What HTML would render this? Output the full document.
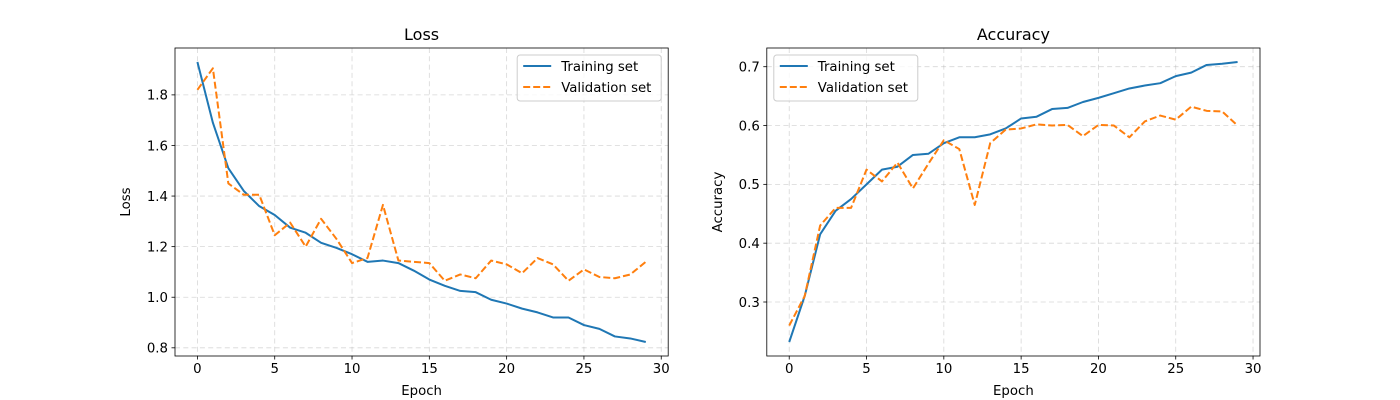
<!DOCTYPE html>
<html><head><meta charset="utf-8"><style>
body{margin:0;background:#fff}
svg{display:block;font-family:"DejaVu Sans","Liberation Sans",sans-serif}
</style></head><body>
<svg id="fig" width="1400" height="400" xmlns="http://www.w3.org/2000/svg"></svg>
<script>
const epochs = Array.from({length:30},(_,i)=>i);
const lossTrain = [1.93,1.69,1.51,1.42,1.36,1.325,1.275,1.255,1.215,1.195,1.17,1.14,1.145,1.135,1.105,1.07,1.045,1.025,1.02,0.99,0.975,0.955,0.94,0.92,0.92,0.89,0.875,0.845,0.837,0.823];
const lossVal = [1.82,1.905,1.45,1.405,1.405,1.245,1.295,1.2,1.31,1.23,1.135,1.155,1.365,1.145,1.14,1.135,1.065,1.09,1.075,1.145,1.13,1.095,1.155,1.13,1.065,1.11,1.08,1.075,1.09,1.14];
const accTrain = [0.232,0.31,0.415,0.455,0.475,0.5,0.525,0.53,0.55,0.552,0.57,0.58,0.58,0.585,0.595,0.612,0.615,0.628,0.63,0.64,0.647,0.655,0.663,0.668,0.672,0.684,0.69,0.703,0.705,0.708];
const accVal = [0.26,0.31,0.43,0.46,0.46,0.525,0.505,0.537,0.493,0.535,0.575,0.56,0.465,0.57,0.593,0.595,0.602,0.6,0.601,0.582,0.601,0.6,0.58,0.607,0.617,0.61,0.632,0.625,0.624,0.6];
const xTicks = [0,5,10,15,20,25,30];
const lossTicks = [0.8,1.0,1.2,1.4,1.6,1.8];
const accTicks = [0.3,0.4,0.5,0.6,0.7];

const NS="http://www.w3.org/2000/svg";
const svg=document.getElementById('fig');
function el(tag,attrs,parent,text){const e=document.createElementNS(NS,tag);for(const k in attrs)e.setAttribute(k,attrs[k]);if(text!==undefined)e.textContent=text;(parent||svg).appendChild(e);return e;}

function panel(x0,title,ylabel,train,val,yTicks,legendRight,prefix){
  const x1=x0+493.2, y0=48, y1=356;
  const all=train.concat(val);
  const mn=Math.min(...all), mx=Math.max(...all), m=(mx-mn)*0.05;
  const ymin=mn-m, ymax=mx+m;
  const xmin=-1.45, xmax=30.45;
  const X=v=>x0+(v-xmin)/(xmax-xmin)*(x1-x0);
  const Y=v=>y1-(v-ymin)/(ymax-ymin)*(y1-y0);
  const g=el('g',{});
  
  
  // grid
  xTicks.forEach(t=>{
    const l=el('line',{x1:X(t),x2:X(t),y1:y0,y2:y1,stroke:'#b0b0b0','stroke-opacity':0.5,'stroke-dasharray':'5,3.3','stroke-width':0.8},g);
    
    
    el('line',{x1:X(t),x2:X(t),y1:y1,y2:y1+3.5,stroke:'#000','stroke-width':0.8},g);
    const tx=el('text',{x:X(t),y:y1+17,'text-anchor':'middle','font-size':'13.3px'},g,String(t));
    
    
  });
  yTicks.forEach(t=>{
    const l=el('line',{x1:x0,x2:x1,y1:Y(t),y2:Y(t),stroke:'#b0b0b0','stroke-opacity':0.5,'stroke-dasharray':'5,3.3','stroke-width':0.8},g);
    
    
    el('line',{x1:x0-3.5,x2:x0,y1:Y(t),y2:Y(t),stroke:'#000','stroke-width':0.8},g);
    const tx=el('text',{x:x0-7,y:Y(t)+4.8,'text-anchor':'end','font-size':'13.3px'},g,t.toFixed(1));
    
    
  });
  const line=(arr,color,dash,name)=>{
    const p=el('polyline',{points:arr.map((v,i)=>X(epochs[i])+','+Y(v)).join(' '),fill:'none',stroke:color,'stroke-width':2,'stroke-dasharray':dash||'none','stroke-linejoin':'round'},g);
    
    
  };
  line(train,'#1f77b4',null,prefix+'-training-line');
  line(val,'#ff7f0e','7,3',prefix+'-validation-line');
  const fr=el('rect',{x:x0,y:y0,width:x1-x0,height:y1-y0,fill:'none',stroke:'#000','stroke-width':0.8},g);
  
  
  const tt=el('text',{x:(x0+x1)/2,y:y0-8,'text-anchor':'middle','font-size':'16px'},g,title);
  
  
  const xl=el('text',{x:(x0+x1)/2,y:y1+39,'text-anchor':'middle','font-size':'13.3px'},g,'Epoch');
  
  
  const yx=x0-45, yy=(y0+y1)/2;
  const yl=el('text',{x:yx,y:yy,'text-anchor':'middle','font-size':'13.3px',transform:`rotate(-90 ${yx} ${yy})`},g,ylabel);
  
  
  // legend
  const lw=144, lx=legendRight? x1-7-lw : x0+7, ly=55;
  const lg=el('g',{},g);
  
  
  el('rect',{x:lx,y:ly,width:lw,height:46,rx:3,fill:'#fff','fill-opacity':0.8,stroke:'#ccc','stroke-width':1},lg);
  el('line',{x1:lx+6,x2:lx+34,y1:ly+11,y2:ly+11,stroke:'#1f77b4','stroke-width':2},lg);
  const t1=el('text',{x:lx+44,y:ly+16,'font-size':'13.3px'},lg,'Training set');
  
  
  el('line',{x1:lx+6,x2:lx+34,y1:ly+32,y2:ly+32,stroke:'#ff7f0e','stroke-width':2,'stroke-dasharray':'7,3'},lg);
  const t2=el('text',{x:lx+44,y:ly+37,'font-size':'13.3px'},lg,'Validation set');
  
  
}
panel(175,'Loss','Loss',lossTrain,lossVal,lossTicks,true,'loss');
panel(766.8,'Accuracy','Accuracy',accTrain,accVal,accTicks,false,'accuracy');
</script>
</body></html>
